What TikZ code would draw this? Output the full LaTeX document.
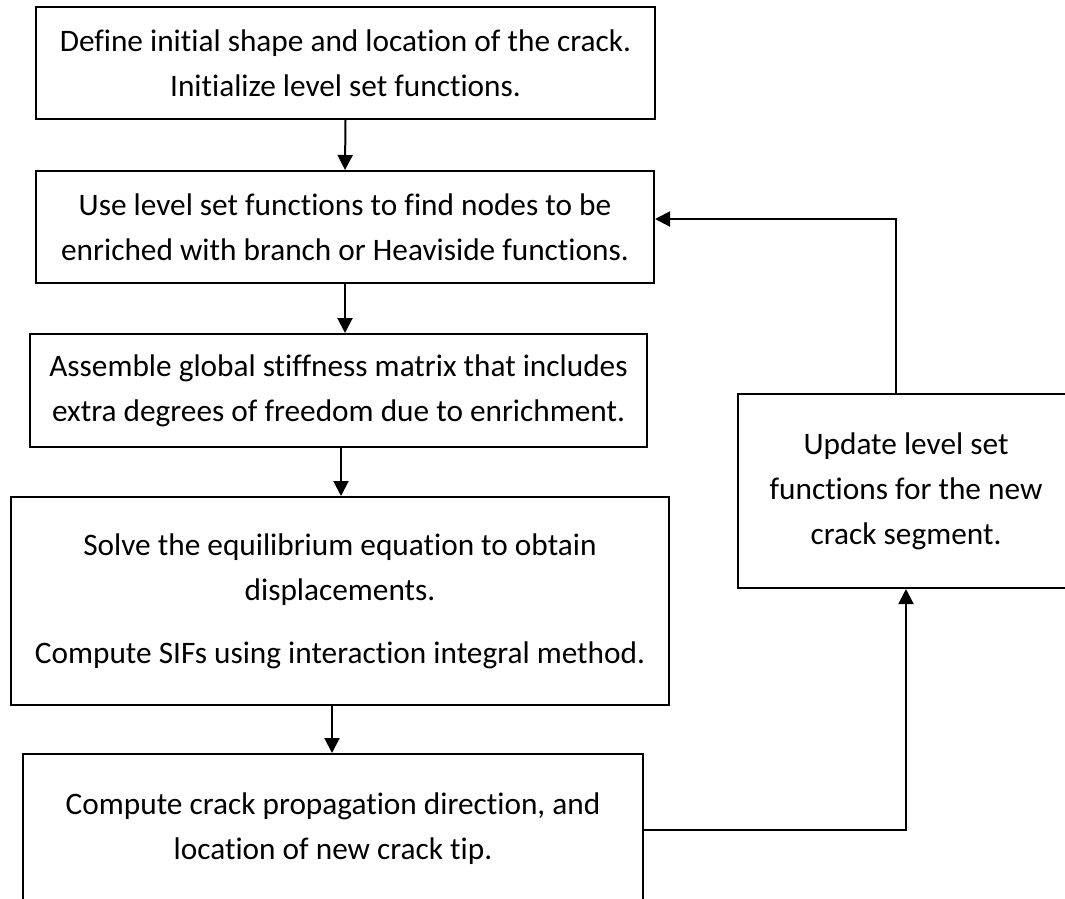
\documentclass[tikz,border=0pt]{standalone}
\usepackage{fontspec}
\setmainfont[Ligatures=NoCommon]{Carlito}
\usetikzlibrary{arrows.meta}
\tikzset{
  box/.style={draw=black, line width=2pt, rectangle, align=center, inner sep=0pt,
    font=\fontsize{31.3pt}{45pt}\selectfont},
  arr/.style={draw=black, line width=2pt, -{Triangle[width=15pt,length=15pt]}}
}
\begin{document}
\begin{tikzpicture}[x=1pt,y=-1pt]
\useasboundingbox (0,0) rectangle (1065,898);
\node[box, minimum width=619pt, minimum height=112pt] (b1) at (345.5,63)
  {Define initial shape and location of the crack.\\Initialize level set functions.};
\node[box, minimum width=618pt, minimum height=112pt] (b2) at (345,227)
  {Use level set functions to find nodes to be\\enriched with branch or Heaviside functions.};
\node[box, minimum width=617pt, minimum height=113pt] (b3) at (338.5,390.5)
  {Assemble global stiffness matrix that includes\\extra degrees of freedom due to enrichment.};
\node[box, minimum width=658pt, minimum height=208pt] (b4) at (340,601)
  {Solve the equilibrium equation to obtain\\displacements.\\[18pt]Compute SIFs using interaction integral method.};
\node[box, minimum width=620pt, minimum height=150pt] (b5) at (333,829)
  {Compute crack propagation direction, and\\location of new crack tip.};
\node[box, minimum width=336pt, minimum height=194pt] (b6) at (906,491)
  {Update level set\\functions for the new\\crack segment.};
\draw[arr] (b1.south) -- (b2.north);
\draw[arr] (b2.south) -- (b2.south |- b3.north);
\draw[arr] ([xshift=2.5pt]b3.south) -- ([xshift=2.5pt]b3.south |- b4.north);
\draw[arr] ([xshift=-8pt]b4.south) -- ([xshift=-8pt]b4.south |- b5.north);
\draw[arr] ([xshift=-10pt]b6.north) |- ([yshift=8pt]b2.east);
\draw[arr] ([yshift=-1pt]b5.east) -| (b6.south);
\end{tikzpicture}
\end{document}
